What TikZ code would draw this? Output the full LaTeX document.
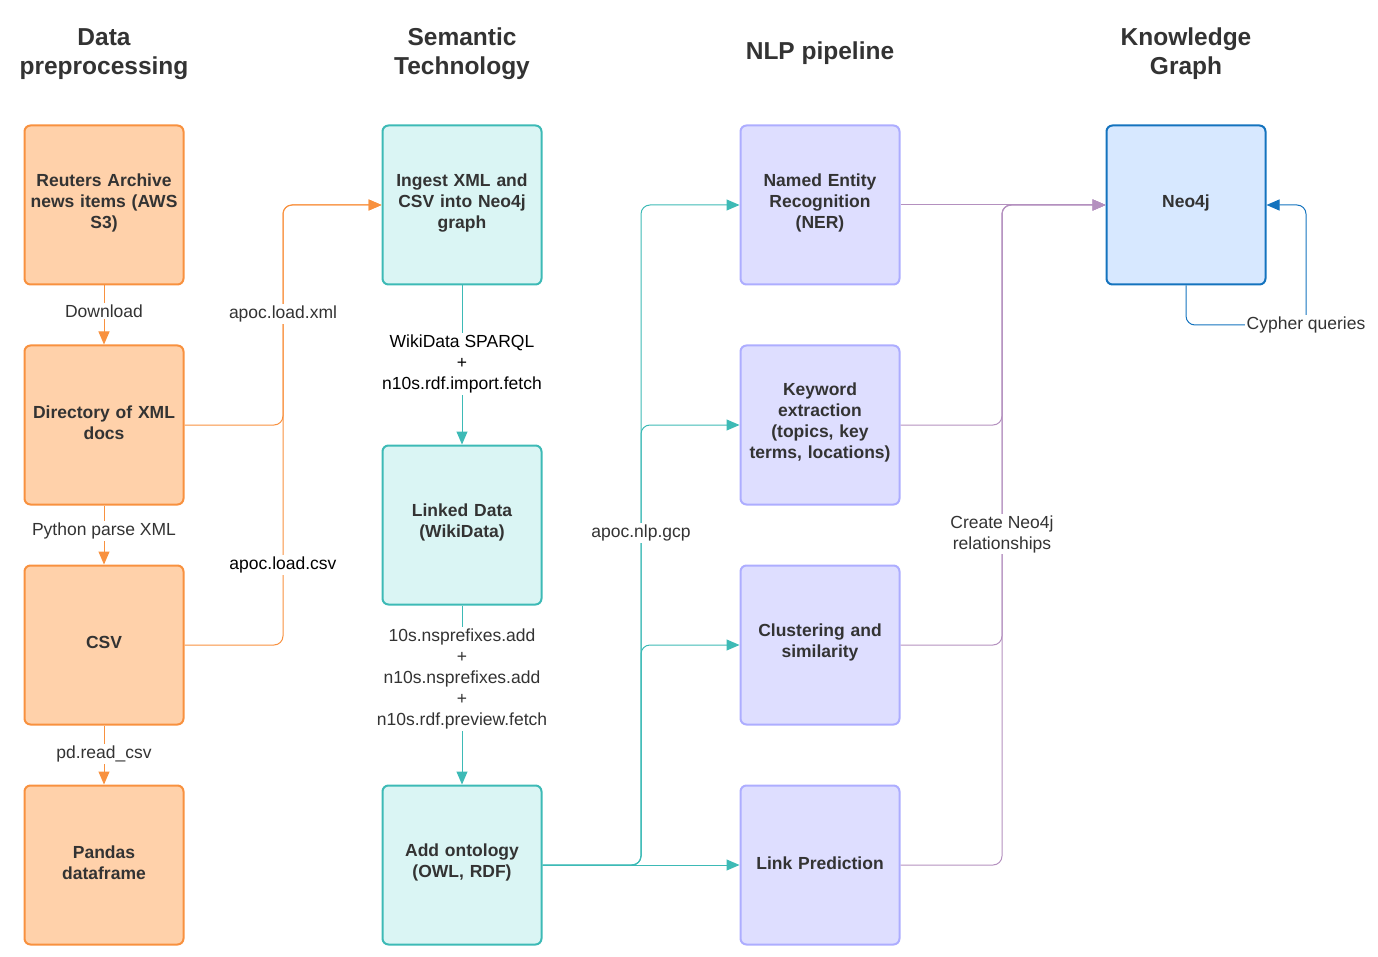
\documentclass[tikz,border=0pt]{standalone}
\usepackage{fontspec}
\setmainfont{Liberation Sans}
\usetikzlibrary{arrows.meta}
\definecolor{txt}{HTML}{333333}
\definecolor{orfill}{HTML}{FFD1AA}
\definecolor{ordraw}{HTML}{F8913F}
\definecolor{tefill}{HTML}{DAF5F4}
\definecolor{tedraw}{HTML}{3DBAB6}
\definecolor{lvfill}{HTML}{DEDEFF}
\definecolor{lvdraw}{HTML}{ADADFF}
\definecolor{nefill}{HTML}{D7E8FF}
\definecolor{nedraw}{HTML}{1473BE}
\definecolor{pulink}{HTML}{B490BF}
\tikzset{
  box/.style={rectangle, rounded corners=6pt, line width=2pt, minimum width=159pt, minimum height=159pt,
    align=center, text=txt, font=\fontsize{17.5}{21}\selectfont\bfseries, text width=150pt,
    execute at end node={\par\vspace{4.5pt}}},
  obox/.style={box, fill=orfill, draw=ordraw},
  tbox/.style={box, fill=tefill, draw=tedraw},
  lbox/.style={box, fill=lvfill, draw=lvdraw},
  nbox/.style={box, fill=nefill, draw=nedraw},
  head/.style={align=center, text=txt, font=\fontsize{24.5}{29}\selectfont\bfseries},
  lab/.style={align=center, text=txt, fill=white, inner sep=1.5pt, font=\fontsize{17.5}{21}\selectfont},
  conn/.style={line width=1pt, rounded corners=9pt, -{Triangle[length=13pt,width=11pt]}},
  oconn/.style={conn, draw=ordraw},
  tconn/.style={conn, draw=tedraw},
  pconn/.style={conn, draw=pulink},
  bconn/.style={conn, draw=nedraw},
}
\begin{document}
\begin{tikzpicture}[x=1pt,y=-1pt]
\useasboundingbox (0,0) rectangle (1378,957);
% headers
\node[head] (h1) at (104,54) {Data\\preprocessing};
\node[head] (h2) at (462,54) {Semantic\\Technology};
\node[head] (h3) at (820,53) {NLP pipeline};
\node[head] (h4) at (1186,54) {Knowledge\\Graph};
% column 1
\node[obox] (reu) at (104,205) {Reuters Archive\\news items (AWS\\S3)};
\node[obox] (dir) at (104,425) {Directory of XML\\docs};
\node[obox] (csv) at (104,645) {CSV};
\node[obox] (pan) at (104,865) {Pandas\\dataframe};
% column 2
\node[tbox] (ing) at (462,205) {Ingest XML and\\CSV into Neo4j\\graph};
\node[tbox] (lnk) at (462,525) {Linked Data\\(WikiData)};
\node[tbox] (ont) at (462,865) {Add ontology\\(OWL, RDF)};
% column 3
\node[lbox] (ner) at (820,205) {Named Entity\\Recognition\\(NER)};
\node[lbox] (kw) at (820,425) {Keyword\\extraction\\(topics, key\\terms, locations)};
\node[lbox] (clu) at (820,645) {Clustering and\\similarity};
\node[lbox] (lp) at (820,865) {Link Prediction};
% column 4
\node[nbox] (neo) at (1186,205) {Neo4j};
% junction coordinates
\coordinate (jo) at (283,0);
\coordinate (jt) at (641,0);
\coordinate (jp) at (1002,0);
\coordinate (cq) at (1306,325);
% orange connectors
\draw[oconn] (reu.south) -- (dir.north);
\draw[oconn] (dir.south) -- (csv.north);
\draw[oconn] (csv.south) -- (pan.north);
\draw[oconn] (dir.east) -| (jo |- ing.west) -- (ing.west);
\draw[oconn] (csv.east) -| (jo |- ing.west) -- (ing.west);
% teal connectors
\draw[tconn] (ing.south) -- (lnk.north);
\draw[tconn] (lnk.south) -- (ont.north);
\draw[tconn] (ont.east) -- (lp.west);
\draw[tconn] (ont.east) -| (jt |- clu.west) -- (clu.west);
\draw[tconn] (ont.east) -| (jt |- kw.west) -- (kw.west);
\draw[tconn] (ont.east) -| (jt |- ner.west) -- (ner.west);
% purple connectors
\draw[pconn] (ner.east) -- (neo.west);
\draw[pconn] (kw.east) -| (jp |- neo.west) -- (neo.west);
\draw[pconn] (clu.east) -| (jp |- neo.west) -- (neo.west);
\draw[pconn] (lp.east) -| (jp |- neo.west) -- (neo.west);
% blue connector
\draw[bconn] (neo.south) |- (cq) |- (neo.east);
% labels
\node[lab] (l1) at (104,311) {Download};
\node[lab] (l2) at (104,531) {Python parse XML};
\node[lab] (l3) at (104,754) {pd.read\_csv};
\node[lab] (l4) at (283,314) {apoc.load.xml};
\node[lab,text=black] (l5) at (283,565) {apoc.load.csv};
\node[lab,text=black] (l6) at (462,364) {WikiData SPARQL\\+\\n10s.rdf.import.fetch};
\node[lab] (l7) at (462,679) {10s.nsprefixes.add\\+\\n10s.nsprefixes.add\\+\\n10s.rdf.preview.fetch};
\node[lab] (l8) at (641,533) {apoc.nlp.gcp};
\node[lab] (l9) at (1002,534) {Create Neo4j\\relationships};
\node[lab] (l10) at (1306,325) {Cypher queries};
\end{tikzpicture}
\end{document}
